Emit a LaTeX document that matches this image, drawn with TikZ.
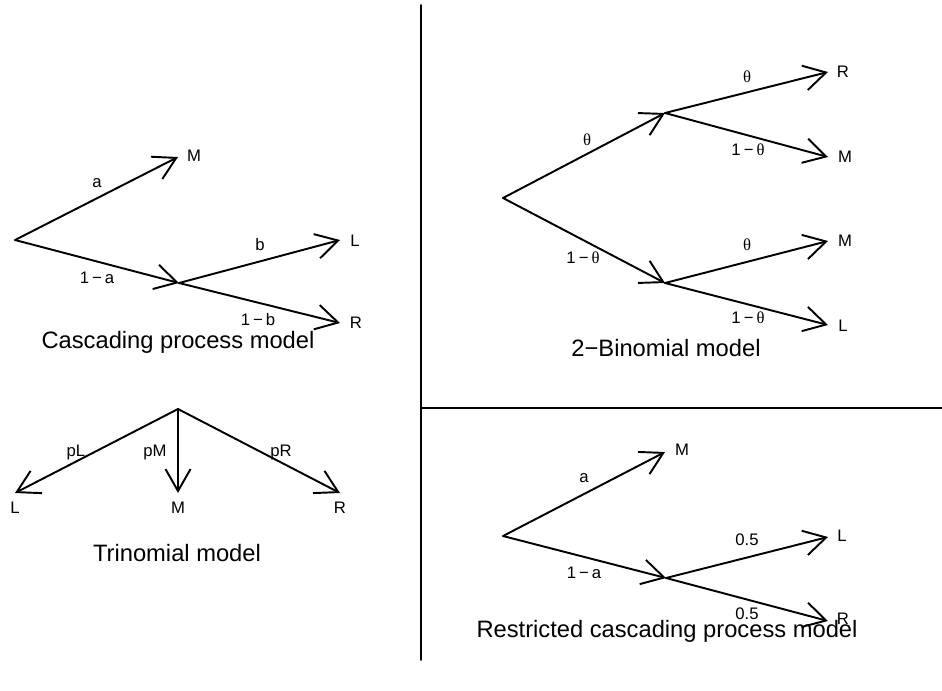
\documentclass[tikz,border=0pt]{standalone}
\usepackage{fontspec}
\setmainfont{Liberation Sans}
\newfontfamily\greekfont{Liberation Serif}
\usetikzlibrary{
  arrows.meta,
  positioning
}
\newcommand{\thet}{{\greekfont θ}}
\newcommand{\mn}{\hspace{0.18em}−\hspace{0.18em}}

\begin{document}
\begin{tikzpicture}[x=0.02cm,y=-0.02cm,line cap=round,line join=round,
  arr/.style={line width=1.1pt,-{Straight Barb[length=4.4mm,width=5mm,line width=1.1pt]}},
  lbl/.style={font=\fontsize{9.5}{11}\selectfont,inner sep=0pt},
  ttl/.style={font=\fontsize{13.5}{15}\selectfont,inner sep=0pt}]
  \useasboundingbox (0,0) rectangle (942,690);

  % frame lines
  \coordinate (vtop) at (421,5);
  \coordinate (vbot) at (421,660);
  \coordinate (hleft) at (421,408);
  \coordinate (hright) at (942,408);
  \draw[line width=1pt] (vtop) -- (vbot);
  \draw[line width=1pt] (hleft) -- (hright);

  % cascading process model
  \coordinate (c0) at (15,240);
  \coordinate (cm) at (178,157);
  \coordinate (c1) at (179,283);
  \coordinate (cl) at (340,240);
  \coordinate (cr) at (340,323);
  \draw[arr] (c0) -- (cm);
  \draw[arr] (c0) -- (c1);
  \draw[arr] (c1) -- (cl);
  \draw[arr] (c1) -- (cr);
  \node[lbl] (cM) at (194,156) {M};
  \node[lbl] (cL) at (355,241) {L};
  \node[lbl] (cR) at (356,323) {R};
  \node[lbl] (ca) at (97,183) {a};
  \node[lbl] (c1a) at (97,278) {1\mn a};
  \node[lbl] (cb) at (260,245) {b};
  \node[lbl] (c1b) at (258,320) {1\mn b};
  \node[ttl] (ctitle) at (178,342) {Cascading process model};

  % 2-binomial model
  \coordinate (b0) at (503,198);
  \coordinate (bu) at (665,113);
  \coordinate (bd) at (665,283);
  \coordinate (bur) at (828,72);
  \coordinate (bum) at (828,157);
  \coordinate (bdm) at (828,241);
  \coordinate (bdl) at (828,325);
  \draw[arr] (b0) -- (bu);
  \draw[arr] (b0) -- (bd);
  \draw[arr] (bu) -- (bur);
  \draw[arr] (bu) -- (bum);
  \draw[arr] (bd) -- (bdm);
  \draw[arr] (bd) -- (bdl);
  \node[lbl] (bR) at (843,72) {R};
  \node[lbl] (bM1) at (845,157) {M};
  \node[lbl] (bM2) at (845,241) {M};
  \node[lbl] (bL) at (843,326) {L};
  \node[lbl] (bt1) at (587,140) {\thet};
  \node[lbl] (bt2) at (583,258) {1\mn\thet};
  \node[lbl] (bt3) at (747,77) {\thet};
  \node[lbl] (bt4) at (748,150) {1\mn\thet};
  \node[lbl] (bt5) at (747,245) {\thet};
  \node[lbl] (bt6) at (748,318) {1\mn\thet};
  \node[ttl] (btitle) at (666,348) {2−Binomial model};

  % trinomial model
  \coordinate (t0) at (178,409);
  \coordinate (tl) at (15,493);
  \coordinate (tm) at (178,493);
  \coordinate (tr) at (340,493);
  \draw[arr] (t0) -- (tl);
  \draw[arr] (t0) -- (tm);
  \draw[arr] (t0) -- (tr);
  \node[lbl] (tL) at (15,508) {L};
  \node[lbl] (tM) at (178,508) {M};
  \node[lbl] (tR) at (340,508) {R};
  \node[lbl] (tpl) at (76,452) {pL};
  \node[lbl] (tpm) at (155,452) {pM};
  \node[lbl] (tpr) at (281,452) {pR};
  \node[ttl] (ttitle) at (177,553) {Trinomial model};

  % restricted cascading process model
  \coordinate (r0) at (503,536);
  \coordinate (rm) at (665,452);
  \coordinate (r1) at (666,578);
  \coordinate (rl) at (828,537);
  \coordinate (rr) at (828,621);
  \draw[arr] (r0) -- (rm);
  \draw[arr] (r0) -- (r1);
  \draw[arr] (r1) -- (rl);
  \draw[arr] (r1) -- (rr);
  \node[lbl] (rM) at (682,450) {M};
  \node[lbl] (rL) at (842,536) {L};
  \node[lbl] (rR) at (843,619) {R};
  \node[lbl] (ra) at (584,478) {a};
  \node[lbl] (r1a) at (584,573) {1\mn a};
  \node[lbl] (rh1) at (747,540) {0.5};
  \node[lbl] (rh2) at (747,614) {0.5};
  \node[ttl] (rtitle) at (667,631) {Restricted cascading process model};
\end{tikzpicture}
\end{document}
